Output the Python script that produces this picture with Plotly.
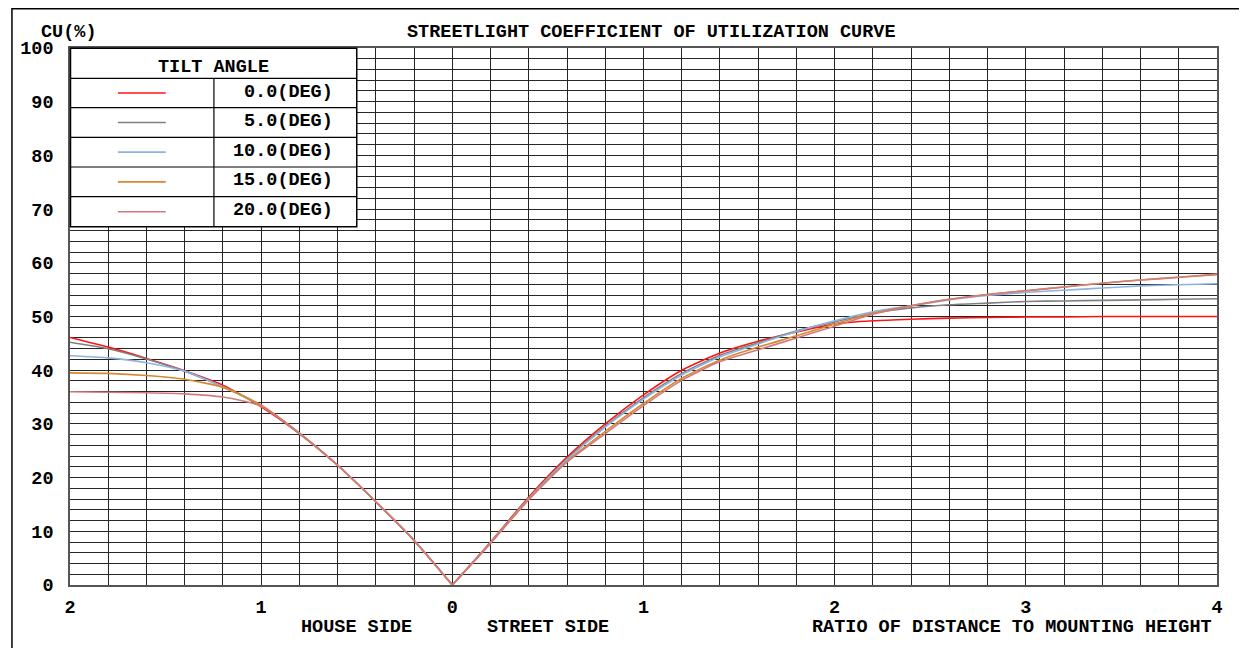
import plotly.graph_objects as go

# ---------------- data ----------------
house_dist = [0, 0.2, 0.4, 0.6, 0.8, 1.0, 1.2, 1.4, 1.6, 1.8, 2.0]
street_dist = [0, 0.2, 0.4, 0.6, 0.8, 1.0, 1.2, 1.4, 1.6, 1.8, 2.0,
               2.2, 2.4, 2.6, 2.8, 3.0, 3.2, 3.4, 3.6, 3.8, 4.0]

series_names = ["0.0(DEG)", "5.0(DEG)", "10.0(DEG)", "15.0(DEG)", "20.0(DEG)"]

house_cu = {
    "0.0(DEG)":  [0, 8.3, 15.5, 22.3, 28.2, 33.2, 37.2, 39.9, 42.2, 44.3, 46.1],
    "5.0(DEG)":  [0, 8.3, 15.5, 22.3, 28.2, 33.4, 36.9, 39.8, 42.1, 44.0, 45.2],
    "10.0(DEG)": [0, 8.3, 15.5, 22.3, 28.3, 33.4, 36.9, 39.8, 41.4, 42.3, 42.7],
    "15.0(DEG)": [0, 8.3, 15.5, 22.3, 28.3, 33.5, 36.8, 38.3, 39.0, 39.4, 39.5],
    "20.0(DEG)": [0, 8.3, 15.5, 22.3, 28.3, 33.3, 35.0, 35.6, 35.8, 35.9, 36.0],
}
street_cu = {
    "0.0(DEG)":  [0, 8.0, 16.4, 23.8, 30.0, 35.4, 40.0, 43.2, 45.4, 47.1, 48.6,
                  49.2, 49.5, 49.7, 49.8, 49.9, 49.9, 50.0, 50.0, 50.0, 50.0],
    "5.0(DEG)":  [0, 7.9, 16.2, 23.5, 29.6, 34.9, 39.4, 42.8, 45.1, 47.3, 49.0,
                  50.6, 51.6, 52.2, 52.5, 52.8, 52.9, 53.0, 53.1, 53.2, 53.3],
    "10.0(DEG)": [0, 7.9, 16.1, 23.3, 29.4, 34.6, 39.1, 42.5, 44.9, 47.2, 49.2,
                  50.9, 52.0, 53.1, 53.9, 54.5, 54.9, 55.3, 55.7, 55.9, 56.1],
    "15.0(DEG)": [0, 7.8, 16.0, 23.0, 28.6, 33.8, 38.5, 41.9, 44.3, 46.4, 48.6,
                  50.6, 52.0, 53.2, 54.1, 54.8, 55.5, 56.2, 56.8, 57.3, 57.8],
    "20.0(DEG)": [0, 7.8, 15.9, 22.9, 28.2, 33.4, 38.1, 41.6, 43.8, 46.0, 48.2,
                  50.4, 52.0, 53.2, 54.1, 54.8, 55.5, 56.2, 56.8, 57.3, 57.9],
}

x_tickvals = [-2, -1, 0, 1, 2, 3, 4]
x_ticktext = ["2", "1", "0", "1", "2", "3", "4"]
y_tickvals = [0, 10, 20, 30, 40, 50, 60, 70, 80, 90, 100]

title_text = "STREETLIGHT COEFFICIENT OF UTILIZATION CURVE"
y_title = "CU(%)"
legend_title = "TILT ANGLE"
house_label = "HOUSE SIDE"
street_label = "STREET SIDE"
ratio_label = "RATIO OF DISTANCE TO MOUNTING HEIGHT"

# ---------------- styles ----------------
colors = {
    "0.0(DEG)": "#FF1414",
    "5.0(DEG)": "#808080",
    "10.0(DEG)": "#8DB3E2",
    "15.0(DEG)": "#D6892F",
    "20.0(DEG)": "#D27A7C",
}
FONT = "Liberation Mono, Courier New, monospace"
FS = 18.5
# figure sits at page offset (8, 8) because of the default body margin
W, H = 1239, 640
L, R, T, B = 59, 30, 40, 63
PW, PH = W - L - R, H - T - B   # 1150 x 537
PAGE_L, PAGE_B = 67, 585        # plot-area left / bottom in page pixels


def px_x(px):
    return (px - PAGE_L) / PW


def px_y(py):
    return (PAGE_B - py) / PH


fig = go.Figure()

for name in series_names:
    fig.add_trace(go.Scatter(
        x=[-d for d in house_dist], y=house_cu[name], mode="lines", name=name,
        line=dict(color=colors[name], width=1.6, shape="spline", smoothing=0.6),
        showlegend=False, hoverinfo="skip"))
    fig.add_trace(go.Scatter(
        x=street_dist, y=street_cu[name], mode="lines", name=name,
        line=dict(color=colors[name], width=1.6, shape="spline", smoothing=0.6),
        showlegend=False, hoverinfo="skip"))

grid_col = "#262626"
fig.update_xaxes(
    range=[-2, 4], tickmode="array", tickvals=x_tickvals, ticktext=x_ticktext,
    showgrid=True, gridcolor=grid_col, gridwidth=1, zeroline=False,
    minor=dict(dtick=0.2, tick0=0, showgrid=True, gridcolor=grid_col, gridwidth=1, ticks=""),
    ticks="", showline=True, linecolor="#555", linewidth=1.5, mirror=True,
    tickfont=dict(family=FONT, size=FS, color="black", weight="bold"),
    ticklabelstandoff=4,
)
fig.update_yaxes(
    range=[0, 100], tickmode="array", tickvals=y_tickvals,
    showgrid=True, gridcolor=grid_col, gridwidth=1, zeroline=False,
    minor=dict(dtick=2, tick0=0, showgrid=True, gridcolor=grid_col, gridwidth=1, ticks=""),
    ticks="", showline=True, linecolor="#555", linewidth=1.5, mirror=True,
    tickfont=dict(family=FONT, size=FS, color="black", weight="bold"),
    ticklabelstandoff=11,
)

shapes = []
# outer frame
shapes.append(dict(type="rect", xref="paper", yref="paper",
                   x0=px_x(8.8), x1=px_x(1245.5), y0=px_y(700), y1=px_y(8.8),
                   line=dict(color="black", width=1.5), fillcolor="rgba(0,0,0,0)",
                   layer="below"))
# legend table
lx0, lx1, lcol = 67.5, 354.5, 211.3
row_edges = [48.3, 78.3, 107.7, 137.3, 167.0, 196.7, 226.7]
shapes.append(dict(type="rect", xref="paper", yref="paper",
                   x0=px_x(lx0), x1=px_x(lx1), y0=px_y(row_edges[-1]), y1=px_y(row_edges[0]),
                   line=dict(color="black", width=1.5), fillcolor="white", layer="above"))
for e in row_edges[1:-1]:
    shapes.append(dict(type="line", xref="paper", yref="paper",
                       x0=px_x(lx0), x1=px_x(lx1), y0=px_y(e), y1=px_y(e),
                       line=dict(color="black", width=1.2), layer="above"))
shapes.append(dict(type="line", xref="paper", yref="paper",
                   x0=px_x(lcol), x1=px_x(lcol), y0=px_y(row_edges[-1]), y1=px_y(row_edges[1]),
                   line=dict(color="black", width=1.2), layer="above"))

annotations = []
for i, name in enumerate(series_names):
    cy = (row_edges[i + 1] + row_edges[i + 2]) / 2
    shapes.append(dict(type="line", xref="paper", yref="paper",
                       x0=px_x(115), x1=px_x(163), y0=px_y(cy), y1=px_y(cy),
                       line=dict(color=colors[name], width=1.6), layer="above"))
    annotations.append(dict(text=name, xref="paper", yref="paper",
                            x=px_x(333), y=px_y(cy - 1), xanchor="right", yanchor="middle",
                            showarrow=False,
                            font=dict(family=FONT, size=FS, color="black", weight="bold")))
annotations.append(dict(text=legend_title, xref="paper", yref="paper",
                        x=px_x(lcol), y=px_y(67), xanchor="center", yanchor="middle",
                        showarrow=False,
                        font=dict(family=FONT, size=FS, color="black", weight="bold")))

# titles
annotations.append(dict(text=title_text, xref="paper", yref="paper",
                        x=px_x(650), y=px_y(32), xanchor="center", yanchor="middle",
                        showarrow=False,
                        font=dict(family=FONT, size=FS, color="black", weight="bold")))
annotations.append(dict(text=y_title, xref="paper", yref="paper",
                        x=px_x(36), y=px_y(33), xanchor="left", yanchor="middle",
                        showarrow=False,
                        font=dict(family=FONT, size=FS, color="black", weight="bold")))
annotations.append(dict(text=house_label, xref="x", yref="paper",
                        x=-0.5, y=px_y(627), xanchor="center", yanchor="middle",
                        showarrow=False,
                        font=dict(family=FONT, size=FS, color="black", weight="bold")))
annotations.append(dict(text=street_label, xref="x", yref="paper",
                        x=0.5, y=px_y(627), xanchor="center", yanchor="middle",
                        showarrow=False,
                        font=dict(family=FONT, size=FS, color="black", weight="bold")))
annotations.append(dict(text=ratio_label, xref="paper", yref="paper",
                        x=px_x(1214), y=px_y(627), xanchor="right", yanchor="middle",
                        showarrow=False,
                        font=dict(family=FONT, size=FS, color="black", weight="bold")))

fig.update_layout(
    width=W, height=H, autosize=False,
    margin=dict(l=L, r=R, t=T, b=B, pad=0),
    paper_bgcolor="white", plot_bgcolor="white",
    shapes=shapes, annotations=annotations,
    font=dict(family=FONT, size=FS, color="black"),
)

fig.write_html("out.html")
